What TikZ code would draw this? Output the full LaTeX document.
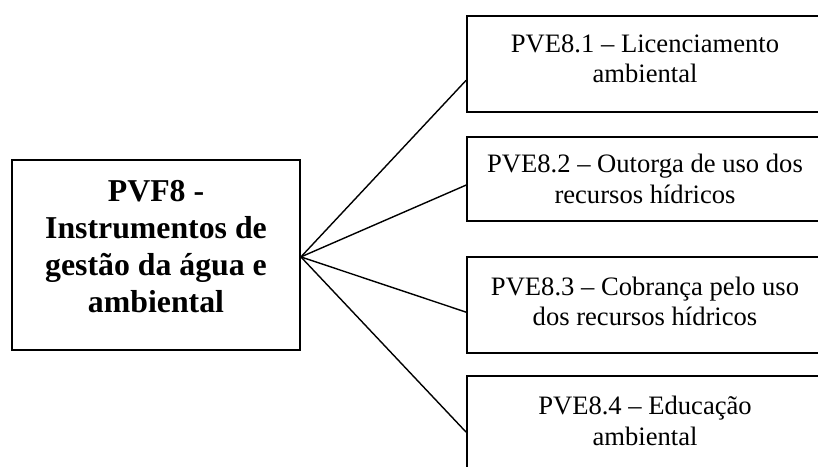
\documentclass[tikz,border=0pt]{standalone}
\usepackage{fontspec}
\setmainfont{Liberation Serif}
\usetikzlibrary{calc}
\begin{document}
\begin{tikzpicture}[x=1pt,y=-1pt,
  box/.style={draw=black,line width=1.8pt,rectangle,inner sep=0pt},
  conn/.style={draw=black,line width=1.4pt},
  subtxt/.style={anchor=north,align=center,inner sep=0pt,font=\fontsize{26.6}{30.6}\selectfont},
  maintxt/.style={anchor=north,align=center,inner sep=0pt,font=\fontsize{31.8}{36.8}\selectfont\bfseries}]
\useasboundingbox (0,0) rectangle (818,466);
\node[box,minimum width=288pt,minimum height=190pt] (main) at (156,255) {};
\node[maintxt] (maintext) at (156,180.5) {PVF8 -\\Instrumentos de\\gestão da água e\\ambiental};
\node[box,minimum width=356pt,minimum height=96pt] (b1) at (645,64) {};
\node[box,minimum width=356pt,minimum height=84pt] (b2) at (645,179) {};
\node[box,minimum width=356pt,minimum height=96pt] (b3) at (645,305) {};
\node[box,minimum width=356pt,minimum height=96pt] (b4) at (645,424) {};
\node[subtxt] (t1) at (645,34.5) {PVE8.1 – Licenciamento\\ambiental};
\node[subtxt] (t2) at (645,154) {PVE8.2 – Outorga de uso dos\\recursos hídricos};
\node[subtxt] (t3) at (645,276.5) {PVE8.3 – Cobrança pelo uso\\dos recursos hídricos};
\node[subtxt] (t4) at (645,396) {PVE8.4 – Educação\\ambiental};
\coordinate (hub) at ($(main.north east)!0.51!(main.south east)$);
\draw[conn] (hub) -- ($(b1.north west)!0.667!(b1.south west)$);
\draw[conn] (hub) -- ($(b2.north west)!0.571!(b2.south west)$);
\draw[conn] (hub) -- ($(b3.north west)!0.573!(b3.south west)$);
\draw[conn] (hub) -- ($(b4.north west)!0.583!(b4.south west)$);
\end{tikzpicture}
\end{document}
